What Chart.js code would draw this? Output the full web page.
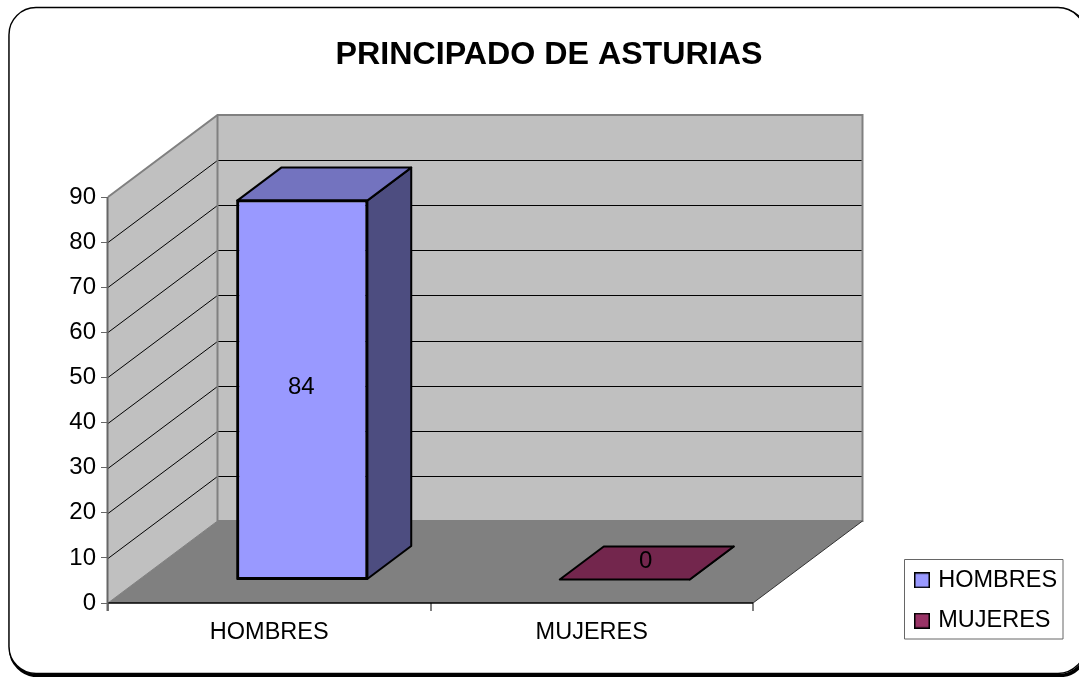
<!DOCTYPE html>
<html><head><meta charset="utf-8">
<style>html,body{margin:0;padding:0;background:#fff;overflow:hidden}canvas{display:block}</style>
<script src="https://cdn.jsdelivr.net/npm/chart.js@4"></script>
</head><body><canvas id="c" width="1079" height="677"></canvas>
<script>
const titleText = 'PRINCIPADO DE ASTURIAS';
const categories = ['HOMBRES', 'MUJERES'];
const values = [84, 0];
const frontColors = ['#9999FF', '#993366'];
const sideColors = ['#4D4D80', '#4D1A33'];
const topColors = ['#7373BF', '#73264D'];
const yMax = 90, yStep = 10;

const FONT = '"Liberation Sans", Arial, sans-serif';
const DEPTH = {x: 109.5, y: -82};        // wall depth
const BAR = {x: 33, y: -23.5, dx: 44, dy: -33}; // bar offset in depth and bar depth

function poly(ctx, pts, fill, stroke, lw) {
  ctx.beginPath();
  pts.forEach((p, i) => i ? ctx.lineTo(p[0], p[1]) : ctx.moveTo(p[0], p[1]));
  ctx.closePath();
  if (fill) { ctx.fillStyle = fill; ctx.fill(); }
  if (stroke) { ctx.strokeStyle = stroke; ctx.lineWidth = lw; ctx.lineJoin = 'round'; ctx.stroke(); }
}

function swatch(color) {
  const cv = document.createElement('canvas');
  cv.width = 16; cv.height = 16;
  const g = cv.getContext('2d');
  g.fillStyle = color; g.fillRect(1, 1, 14, 14);
  g.strokeStyle = '#000'; g.lineWidth = 1.5; g.strokeRect(0.75, 0.75, 14.5, 14.5);
  return cv;
}

const scene = {
  id: 'scene',
  beforeLayout(chart) {
    const lg = chart.legend;
    if (lg && !lg._wrapped) {
      const f = lg.fit;
      lg.fit = function () { f.call(this); this.width = 158; };
      lg._wrapped = true;
    }
  },
  afterLayout(chart) {
    const t = chart.titleBlock;
    t.left = 19; t.right = 1079;
    const l = chart.legend;
    l.left = 900.5; l.right = 1063; l.top = 551.5; l.bottom = 677;
  },
  beforeDraw(chart) {
    const c = chart.ctx;
    c.save();
    c.fillStyle = '#fff';
    c.fillRect(0, 0, chart.width, chart.height);
    // shadow then frame
    c.strokeStyle = '#000';
    c.lineWidth = 3.5;
    c.beginPath(); c.roundRect(10.5, 9.5, 1076, 666, 27); c.stroke();
    c.beginPath(); c.roundRect(9, 7.5, 1076, 666, 27);
    c.fillStyle = '#fff'; c.fill();
    c.lineWidth = 1.4; c.stroke();
    // legend frame
    poly(c, [[904.5, 559.5], [1063, 559.5], [1063, 639], [904.5, 639]], null, '#666', 1);
    c.restore();
  },
  beforeDatasetsDraw(chart) {
    const c = chart.ctx, xs = chart.scales.x, ys = chart.scales.y;
    const L = xs.left, R = xs.right, B = ys.getPixelForValue(0), T = ys.getPixelForValue(yMax);
    const d = DEPTH;
    c.save();
    // back wall
    poly(c, [[L + d.x, T + d.y], [R + d.x, T + d.y], [R + d.x, B + d.y], [L + d.x, B + d.y]], '#C0C0C0');
    // side wall
    poly(c, [[L, T], [L + d.x, T + d.y], [L + d.x, B + d.y], [L, B]], '#C0C0C0');
    // floor
    poly(c, [[L, B], [R, B], [R + d.x, B + d.y], [L + d.x, B + d.y]], '#808080');
    // grid lines on walls
    c.lineWidth = 1; c.strokeStyle = '#000';
    for (let v = yStep; v < yMax; v += yStep) {
      const y = Math.round(ys.getPixelForValue(v)) + 0.5;
      c.beginPath();
      c.moveTo(L, y); c.lineTo(L + d.x, y + d.y); c.lineTo(R + d.x, y + d.y);
      c.stroke();
    }
    // gray edges
    c.strokeStyle = '#808080'; c.lineWidth = 2;
    c.beginPath(); c.moveTo(L, T); c.lineTo(L + d.x, T + d.y); c.lineTo(R + d.x, T + d.y); c.lineTo(R + d.x, B + d.y); c.lineTo(L + d.x, B + d.y); c.stroke();
    c.beginPath(); c.moveTo(L + d.x, T + d.y); c.lineTo(L + d.x, B + d.y); c.stroke();
    c.lineWidth = 1;
    c.beginPath(); c.moveTo(L, B); c.lineTo(L + d.x, B + d.y); c.stroke();
    c.strokeStyle = '#333';
    c.beginPath(); c.moveTo(R, B); c.lineTo(R + d.x, B + d.y); c.stroke();
    // axes
    c.strokeStyle = '#000'; c.lineWidth = 1.5;
    c.beginPath(); c.moveTo(L, B); c.lineTo(R, B); c.stroke();
    c.strokeStyle = '#666'; c.lineWidth = 2;
    c.beginPath(); c.moveTo(L - 0.5, T); c.lineTo(L - 0.5, B + 8); c.stroke();
    c.restore();
  },
  beforeDatasetDraw(chart) {
    chart.ctx.save();
    chart.ctx.translate(BAR.x, BAR.y);
  },
  afterDatasetDraw(chart, args) {
    const c = chart.ctx;
    const meta = chart.getDatasetMeta(args.index);
    meta.data.forEach((bar, i) => {
      const p = bar.getProps(['x', 'y', 'base', 'width'], true);
      const l = p.x - p.width / 2, r = p.x + p.width / 2, t = p.y, b = p.base;
      const dx = BAR.dx, dy = BAR.dy;
      poly(c, [[r, t], [r + dx, t + dy], [r + dx, b + dy], [r, b]], sideColors[i], '#000', 2);
      poly(c, [[l, t], [l + dx, t + dy], [r + dx, t + dy], [r, t]], topColors[i], '#000', 2);
      if (values[i] > 0) poly(c, [[l, t], [r, t], [r, b], [l, b]], null, '#000', 2);
    });
    c.restore();
    c.save();
    c.fillStyle = '#000';
    c.font = '24px ' + FONT;
    c.textAlign = 'center'; c.textBaseline = 'middle';
    meta.data.forEach((bar, i) => {
      const p = bar.getProps(['x', 'y', 'base'], true);
      const v = values[i];
      const lx = p.x + BAR.x + (v > 0 ? -1 : BAR.dx / 2 - 1);
      const ly = (v > 0 ? (p.y + p.base) / 2 : p.y + BAR.dy / 2) + BAR.y - 2;
      c.fillText(String(v), lx, ly);
    });
    c.restore();
  }
};

new Chart(document.getElementById('c'), {
  type: 'bar',
  data: {
    labels: categories,
    datasets: [{
      label: titleText,
      data: values,
      backgroundColor: frontColors,
      borderColor: '#000',
      borderWidth: 2,
      borderSkipped: false,
      barPercentage: 1,
      categoryPercentage: 0.403
    }]
  },
  plugins: [scene],
  options: {
    responsive: false,
    animation: false,
    devicePixelRatio: 1,
    layout: {padding: {left: 0, right: 168, top: 0, bottom: 0}},
    scales: {
      x: {
        offset: true,
        grid: {drawOnChartArea: false, color: '#808080', tickLength: 8, lineWidth: 2},
        border: {display: false},
        ticks: {color: '#000', font: {family: FONT, size: 23.5}, padding: 7, maxRotation: 0},
        afterFit(s) { s.height = 74; }
      },
      y: {
        min: 0, max: yMax,
        grid: {drawOnChartArea: false, color: '#666', tickLength: 7, lineWidth: 1},
        border: {display: false},
        ticks: {stepSize: yStep, color: '#000', font: {family: FONT, size: 24}, padding: 5},
        afterFit(s) { s.width = 108; }
      }
    },
    plugins: {
      title: {
        display: true, text: titleText, color: '#000',
        font: {family: FONT, size: 32.2, weight: 'bold'},
        padding: {top: 36, bottom: 122.4}
      },
      legend: {
        display: true, position: 'right', align: 'start',
        labels: {
          color: '#000', boxWidth: 15, boxHeight: 15, padding: 17,
          usePointStyle: true, pointStyleWidth: 9,
          font: {family: FONT, size: 23.5},
          generateLabels() {
            return categories.map((t, i) => ({
              text: t, fillStyle: frontColors[i], strokeStyle: '#000', lineWidth: 2,
              pointStyle: swatch(frontColors[i]), hidden: false, index: i
            }));
          }
        }
      },
      tooltip: {enabled: false}
    }
  }
});
</script></body></html>
